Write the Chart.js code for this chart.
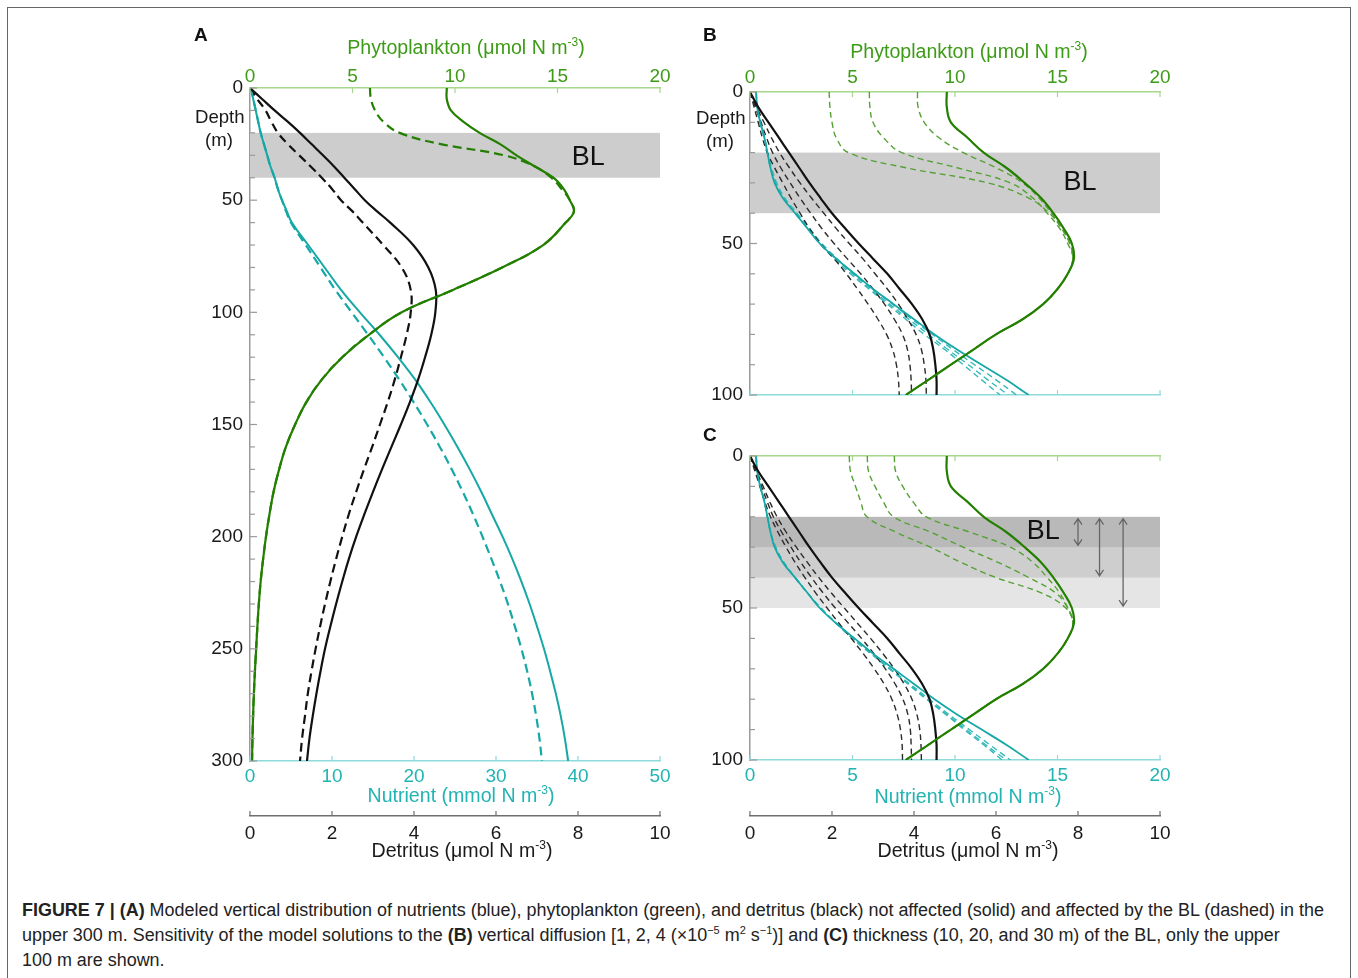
<!DOCTYPE html>
<html>
<head>
<meta charset="utf-8">
<script src="https://cdn.jsdelivr.net/npm/chart.js@4.4.0/dist/chart.umd.min.js"></script>
<style>
  body { margin: 0; background: #fff; font-family: "Liberation Sans", Arial, sans-serif; }
  #page { position: relative; width: 1358px; height: 978px; overflow: hidden; background: #fff; }
  .frame { position: absolute; left: 7px; top: 7px; width: 1342px; height: 990px; border: 1px solid #666; }
  canvas { position: absolute; }
  .t { position: absolute; white-space: nowrap; font-size: 19.6px; line-height: 22px; transform: translateX(-50%); }
  .l { position: absolute; white-space: nowrap; font-size: 18.6px; line-height: 22px; color: #1a1a1a; }
  .p { position: absolute; font-size: 19px; font-weight: bold; line-height: 20px; color: #111; }
  sup { font-size: 12px; line-height: 0; vertical-align: 8px; }
  .cap { position: absolute; left: 22px; top: 898px; font-size: 17.95px; line-height: 25px; color: #222; white-space: nowrap; }
  .cap sup { font-size: 11px; vertical-align: 7px; }
</style>
</head>
<body>
<div id="page">
  <div class="frame"></div>

  <canvas id="cA" width="540" height="850" style="left:150px;top:20px"></canvas>
  <canvas id="cB" width="540" height="400" style="left:650px;top:20px"></canvas>
  <canvas id="cC" width="540" height="450" style="left:650px;top:420px"></canvas>

  <div class="p" style="left:194px;top:25px">A</div>
  <div class="p" style="left:703px;top:25px">B</div>
  <div class="p" style="left:703px;top:425px">C</div>

  <div class="t" style="left:466px;top:36px;color:#3d9b16">Phytoplankton (μmol N m<sup>-3</sup>)</div>
  <div class="t" style="left:969px;top:40px;color:#3d9b16">Phytoplankton (μmol N m<sup>-3</sup>)</div>
  <div class="t" style="left:461px;top:784px;color:#22b3b3">Nutrient (mmol N m<sup>-3</sup>)</div>
  <div class="t" style="left:968px;top:785px;color:#22b3b3">Nutrient (mmol N m<sup>-3</sup>)</div>
  <div class="t" style="left:462px;top:839px;color:#1a1a1a">Detritus (μmol N m<sup>-3</sup>)</div>
  <div class="t" style="left:968px;top:839px;color:#1a1a1a">Detritus (μmol N m<sup>-3</sup>)</div>

  <div class="l" style="left:195px;top:106px">Depth</div>
  <div class="l" style="left:205px;top:129px">(m)</div>
  <div class="l" style="left:696px;top:107px">Depth</div>
  <div class="l" style="left:706px;top:130px">(m)</div>

  <div class="cap"><b>FIGURE 7 | (A)</b> Modeled vertical distribution of nutrients (blue), phytoplankton (green), and detritus (black) not affected (solid) and affected by the BL (dashed) in the<br>upper 300 m. Sensitivity of the model solutions to the <b>(B)</b> vertical diffusion [1, 2, 4 (×10<sup>−5</sup> m<sup>2</sup> s<sup>−1</sup>)] and <b>(C)</b> thickness (10, 20, and 30 m) of the BL, only the upper<br>100 m are shown.</div>
</div>

<script>
// ---- panel A: upper 300 m ----
const depthA = [0, 5, 10, 15, 20, 25, 30, 35, 40, 45, 50, 55, 60, 70, 80, 90, 100, 110, 120, 130, 140, 150, 160, 170, 180, 190, 200, 210, 220, 230, 240, 250, 260, 270, 280, 290, 300];
const phytoA = [9.6, 9.6, 9.8, 10.4, 11.2, 12.2, 13.0, 13.9, 14.8, 15.3, 15.6, 15.8, 15.4, 14.3, 12.3, 9.9, 7.4, 5.8, 4.5, 3.5, 2.75, 2.2, 1.75, 1.42, 1.15, 0.95, 0.78, 0.64, 0.52, 0.43, 0.36, 0.3, 0.24, 0.19, 0.15, 0.12, 0.1];
const phytoA_bl = [5.85, 5.9, 6.1, 6.5, 7.3, 9.3, 12.4, 13.9, 14.7, 15.2, 15.6, 15.8, 15.4, 14.3, 12.3, 9.9, 7.4, 5.8, 4.5, 3.5, 2.75, 2.2, 1.75, 1.42, 1.15, 0.95, 0.78, 0.64, 0.52, 0.43, 0.36, 0.3, 0.24, 0.19, 0.15, 0.12, 0.1];
const detrA = [0, 0.3, 0.6, 0.92, 1.22, 1.5, 1.78, 2.05, 2.3, 2.55, 2.8, 3.1, 3.42, 3.98, 4.35, 4.53, 4.52, 4.42, 4.27, 4.1, 3.9, 3.68, 3.45, 3.22, 3.0, 2.79, 2.59, 2.41, 2.25, 2.1, 1.96, 1.83, 1.72, 1.62, 1.53, 1.45, 1.39];
const detrA_bl = [0, 0.18, 0.38, 0.52, 0.68, 0.92, 1.2, 1.48, 1.75, 2.0, 2.22, 2.5, 2.75, 3.25, 3.7, 3.92, 3.92, 3.82, 3.68, 3.53, 3.36, 3.17, 2.98, 2.78, 2.59, 2.41, 2.25, 2.1, 1.96, 1.83, 1.71, 1.6, 1.5, 1.41, 1.34, 1.27, 1.22];
const nutA = [0.1, 0.4, 0.7, 1.0, 1.3, 1.7, 2.1, 2.5, 3.0, 3.4, 3.9, 4.5, 5.1, 7.1, 9.1, 11.1, 13.4, 15.8, 18.05, 20.15, 22.0, 23.7, 25.3, 26.8, 28.2, 29.5, 30.8, 32.0, 33.1, 34.1, 35.0, 35.85, 36.6, 37.3, 37.9, 38.4, 38.8];
const nutA_bl = [0.1, 0.4, 0.7, 1.0, 1.3, 1.7, 2.1, 2.5, 3.0, 3.4, 3.9, 4.4, 5.0, 6.8, 8.6, 10.4, 12.4, 14.4, 16.35, 18.2, 19.95, 21.6, 23.15, 24.6, 25.95, 27.2, 28.35, 29.45, 30.5, 31.45, 32.3, 33.1, 33.8, 34.4, 34.9, 35.3, 35.6];
const blA = [20, 40];

// ---- panels B and C: upper 100 m ----
const depthBC = [0, 5, 10, 15, 20, 25, 30, 35, 40, 45, 50, 55, 60, 65, 70, 75, 80, 85, 90, 95, 100];
const phytoRef = [9.6, 9.6, 9.8, 10.6, 11.4, 12.5, 13.4, 14.2, 14.8, 15.3, 15.7, 15.8, 15.5, 15.0, 14.3, 13.3, 12.0, 10.9, 9.8, 8.7, 7.6];
const detrRef = [0, 0.2, 0.45, 0.7, 0.95, 1.2, 1.45, 1.72, 2.0, 2.32, 2.65, 3.0, 3.35, 3.65, 3.95, 4.2, 4.38, 4.47, 4.52, 4.55, 4.55];
const nutRef = [0.3, 0.35, 0.5, 0.7, 0.85, 1.0, 1.2, 1.6, 2.2, 2.8, 3.4, 4.2, 5.1, 6.0, 7.0, 8.0, 9.0, 10.1, 11.3, 12.5, 13.6];

// B: vertical diffusion 1, 2, 4 (x1e-5 m2 s-1)
const phytoB1 = [3.86, 3.9, 4.0, 4.2, 4.8, 7.6, 11.6, 13.6, 14.6, 15.2, 15.6, 15.75, 15.5, 15.0, 14.3, 13.3, 12.0, 10.9, 9.8, 8.7, 7.6];
const phytoB2 = [5.82, 5.85, 6.0, 6.5, 7.4, 10.1, 12.7, 13.8, 14.5, 15.1, 15.5, 15.75, 15.5, 15.0, 14.3, 13.3, 12.0, 10.9, 9.8, 8.7, 7.6];
const phytoB3 = [8.17, 8.2, 8.5, 9.2, 10.4, 12.0, 13.3, 14.1, 14.7, 15.2, 15.6, 15.75, 15.5, 15.0, 14.3, 13.3, 12.0, 10.9, 9.8, 8.7, 7.6];
const detrB1 = [0, 0.1, 0.2, 0.3, 0.42, 0.6, 0.8, 1.0, 1.22, 1.45, 1.72, 2.05, 2.35, 2.62, 2.88, 3.12, 3.33, 3.48, 3.57, 3.62, 3.64];
const detrB2 = [0, 0.13, 0.27, 0.4, 0.55, 0.75, 0.98, 1.22, 1.48, 1.75, 2.05, 2.37, 2.7, 3.0, 3.28, 3.52, 3.72, 3.84, 3.9, 3.93, 3.94];
const detrB3 = [0, 0.16, 0.34, 0.52, 0.72, 0.96, 1.22, 1.5, 1.8, 2.1, 2.42, 2.75, 3.05, 3.35, 3.62, 3.85, 4.05, 4.18, 4.25, 4.29, 4.3];
const nutB1 = [0.3, 0.35, 0.5, 0.7, 0.85, 1.0, 1.25, 1.65, 2.2, 2.8, 3.4, 4.1, 4.9, 5.8, 6.7, 7.6, 8.5, 9.5, 10.4, 11.3, 12.2];
const nutB2 = [0.3, 0.35, 0.5, 0.7, 0.85, 1.0, 1.25, 1.65, 2.25, 2.85, 3.45, 4.2, 5.0, 5.9, 6.8, 7.75, 8.7, 9.65, 10.65, 11.6, 12.6];
const nutB3 = [0.3, 0.35, 0.5, 0.7, 0.85, 1.05, 1.3, 1.7, 2.3, 2.9, 3.5, 4.25, 5.05, 6.0, 6.95, 7.9, 8.9, 9.9, 10.95, 12.0, 13.0];
const blB = [20, 40];

// C: BL thickness 10, 20, 30 m
const phytoC1 = [7.04, 7.1, 7.45, 7.95, 8.6, 10.7, 12.7, 13.8, 14.5, 15.1, 15.5, 15.75, 15.5, 15.0, 14.3, 13.3, 12.0, 10.9, 9.8, 8.7, 7.6];
const phytoC2 = [5.72, 5.78, 6.1, 6.5, 7.0, 8.8, 10.4, 12.1, 13.6, 14.9, 15.5, 15.75, 15.5, 15.0, 14.3, 13.3, 12.0, 10.9, 9.8, 8.7, 7.6];
const phytoC3 = [4.84, 4.9, 5.15, 5.4, 5.7, 7.1, 8.8, 10.3, 12.0, 14.2, 15.4, 15.75, 15.5, 15.0, 14.3, 13.3, 12.0, 10.9, 9.8, 8.7, 7.6];
const detrC1 = [0, 0.12, 0.24, 0.36, 0.5, 0.68, 0.88, 1.1, 1.34, 1.6, 1.88, 2.17, 2.47, 2.76, 3.03, 3.27, 3.46, 3.59, 3.67, 3.71, 3.72];
const detrC2 = [0, 0.14, 0.28, 0.42, 0.57, 0.77, 1.0, 1.24, 1.5, 1.78, 2.08, 2.4, 2.72, 3.02, 3.3, 3.54, 3.73, 3.85, 3.91, 3.93, 3.94];
const detrC3 = [0, 0.16, 0.32, 0.48, 0.66, 0.88, 1.13, 1.4, 1.68, 1.98, 2.3, 2.62, 2.94, 3.24, 3.52, 3.76, 3.95, 4.07, 4.14, 4.17, 4.18];
const nutC1 = [0.3, 0.35, 0.5, 0.7, 0.85, 1.0, 1.25, 1.65, 2.2, 2.8, 3.45, 4.2, 5.0, 5.9, 6.8, 7.7, 8.6, 9.55, 10.45, 11.4, 12.3];
const nutC2 = [0.3, 0.35, 0.5, 0.7, 0.85, 1.0, 1.25, 1.65, 2.2, 2.8, 3.45, 4.2, 5.0, 5.9, 6.8, 7.75, 8.65, 9.6, 10.55, 11.5, 12.5];
const nutC3 = [0.3, 0.35, 0.5, 0.7, 0.85, 1.0, 1.25, 1.65, 2.2, 2.8, 3.45, 4.2, 5.0, 5.9, 6.85, 7.8, 8.75, 9.7, 10.7, 11.7, 12.7];
const blC = [[20, 30], [20, 40], [20, 50]];
const arrowX = [16.0, 17.05, 18.2];   // phytoplankton units, just right of "BL"

Chart.defaults.font.family = '"Liberation Sans", Arial, sans-serif';
Chart.defaults.font.size = 19;
Chart.defaults.color = '#1a1a1a';

const GREEN = '#237f00', GREEN_L = '#55a135';
const TEAL = '#16a7a7', TEAL_L = '#35b8b8';
const BLACK = '#111111', BLACK_L = '#2b2b2b';

function prof(depths, vals, axis, color, width, dash) {
  return {
    data: vals.map((v, i) => ({ x: v, y: depths[i] })),
    xAxisID: axis, yAxisID: 'y',
    showLine: true, borderColor: color, borderWidth: width, borderDash: dash || [],
    pointRadius: 0, pointHoverRadius: 0, tension: 0.4, fill: false
  };
}

const noGrid = () => ({ display: false, drawTicks: false });

function yAxis(max) {
  return {
    type: 'linear', position: 'left', reverse: true, min: 0, max: max,
    afterFit: s => { s.width = 100; },
    ticks: { stepSize: 10, autoSkip: false, padding: 7, color: '#1a1a1a',
             callback: v => (v % 50 === 0 ? v : '') },
    grid: noGrid(), border: { color: '#9a9a9a', width: 1.5 }
  };
}
function phytoAxis(h, labels, pad) {
  return {
    type: 'linear', position: 'top', min: 0, max: 20,
    afterFit: s => { s.height = h; },
    ticks: { stepSize: 5, display: labels, padding: pad, color: '#3d9b16' },
    grid: noGrid(), border: { color: '#a5d88a', width: 1.5 }
  };
}
function nutAxis(max, h, labels) {
  return {
    type: 'linear', position: 'bottom', min: 0, max: max, weight: 0,
    afterFit: s => { s.height = h; },
    ticks: { stepSize: max / 5 >= 10 ? 10 : 5, display: labels, padding: 4, color: '#22b3b3' },
    grid: noGrid(), border: { color: '#8edbdb', width: 1.5 }
  };
}
function detrAxis(show) {
  return {
    type: 'linear', position: 'bottom', min: 0, max: 10, weight: 1, display: show,
    afterFit: s => { s.height = show ? 54 : 0; },
    ticks: { stepSize: 2, padding: 6, color: '#1a1a1a' },
    grid: noGrid(), border: { color: '#6f6f6f', width: 1.5 }
  };
}

// inward tick marks on every visible axis
const inTicks = {
  id: 'inTicks',
  afterDraw(chart) {
    const ctx = chart.ctx;
    ctx.save();
    Object.values(chart.scales).forEach(s => {
      if (!s.options.display) return;
      ctx.strokeStyle = s.options.border.color;
      ctx.lineWidth = 1.2;
      s.ticks.forEach(t => {
        const p = s.getPixelForValue(t.value);
        ctx.beginPath();
        if (s.position === 'left') {
          const L = t.value % 50 === 0 ? 7 : 5;
          ctx.moveTo(s.right, p); ctx.lineTo(s.right + L, p);
        } else if (s.position === 'top') {
          ctx.moveTo(p, s.bottom); ctx.lineTo(p, s.bottom + 5);
        } else {
          ctx.moveTo(p, s.top); ctx.lineTo(p, s.top - 5);
        }
        ctx.stroke();
      });
    });
    ctx.restore();
  }
};

// boundary-layer shading, "BL" label and thickness arrows
function blLayer(bands, labelAt, arrows) {
  return {
    id: 'blLayer',
    beforeDatasetsDraw(chart) {
      const { ctx, chartArea: a, scales } = chart;
      const y = scales.y, x = scales.xP;
      ctx.save();
      bands.forEach(b => {
        const y1 = y.getPixelForValue(b[0]), y2 = y.getPixelForValue(b[1]);
        ctx.fillStyle = bands.length > 1 ? 'rgba(0,0,0,0.1)' : '#cdcdcd';
        ctx.fillRect(a.left, y1, a.right - a.left, y2 - y1);
      });
      ctx.fillStyle = '#111';
      ctx.font = '27px "Liberation Sans", Arial, sans-serif';
      ctx.textAlign = 'center';
      ctx.textBaseline = 'middle';
      ctx.fillText('BL', x.getPixelForValue(labelAt[0]), y.getPixelForValue(labelAt[1]));
      if (arrows) {
        ctx.strokeStyle = '#666';
        ctx.lineWidth = 1.3;
        arrows.forEach((ax, i) => {
          const px = x.getPixelForValue(ax);
          const t = y.getPixelForValue(bands[i][0] + 0.6), b = y.getPixelForValue(bands[i][1] - 0.6);
          ctx.beginPath();
          ctx.moveTo(px, t); ctx.lineTo(px, b);
          ctx.moveTo(px - 4, t + 6); ctx.lineTo(px, t); ctx.lineTo(px + 4, t + 6);
          ctx.moveTo(px - 4, b - 6); ctx.lineTo(px, b); ctx.lineTo(px + 4, b - 6);
          ctx.stroke();
        });
      }
      ctx.restore();
    }
  };
}

const base = {
  responsive: false, animation: false, events: [],
  layout: { padding: { left: 0, right: 30, top: 0, bottom: 0 } },
  plugins: { legend: { display: false }, tooltip: { enabled: false } }
};

// Panel A
new Chart(document.getElementById('cA'), {
  type: 'scatter',
  data: { datasets: [
    prof(depthA, phytoA, 'xP', GREEN, 2.2),
    prof(depthA, detrA, 'xD', BLACK, 2.2),
    prof(depthA, nutA, 'xN', TEAL, 2),
    prof(depthA, phytoA_bl, 'xP', GREEN, 2.2, [9, 5]),
    prof(depthA, detrA_bl, 'xD', BLACK, 2.2, [9, 5]),
    prof(depthA, nutA_bl, 'xN', TEAL, 2.2, [9, 5])
  ] },
  options: Object.assign({}, base, {
    scales: { y: yAxis(300), xP: phytoAxis(68, true, 0), xN: nutAxis(50, 55, true), xD: detrAxis(true) }
  }),
  plugins: [blLayer([blA], [16.5, 31]), inTicks]
});

// Panel B
new Chart(document.getElementById('cB'), {
  type: 'scatter',
  data: { datasets: [
    prof(depthBC, phytoRef, 'xP', GREEN, 2.2),
    prof(depthBC, detrRef, 'xD', BLACK, 2.2),
    prof(depthBC, nutRef, 'xN', TEAL, 1.8),
    prof(depthBC, phytoB1, 'xP', GREEN_L, 1.4, [6, 4]),
    prof(depthBC, phytoB2, 'xP', GREEN_L, 1.4, [6, 4]),
    prof(depthBC, phytoB3, 'xP', GREEN_L, 1.4, [6, 4]),
    prof(depthBC, detrB1, 'xD', BLACK_L, 1.4, [6, 4]),
    prof(depthBC, detrB2, 'xD', BLACK_L, 1.4, [6, 4]),
    prof(depthBC, detrB3, 'xD', BLACK_L, 1.4, [6, 4]),
    prof(depthBC, nutB1, 'xN', TEAL_L, 1.4, [6, 4]),
    prof(depthBC, nutB2, 'xN', TEAL_L, 1.4, [6, 4]),
    prof(depthBC, nutB3, 'xN', TEAL_L, 1.4, [6, 4])
  ] },
  options: Object.assign({}, base, {
    scales: { y: yAxis(100), xP: phytoAxis(72, true, 3), xN: nutAxis(20, 25, false), xD: detrAxis(false) }
  }),
  plugins: [blLayer([blB], [16.1, 30]), inTicks]
});

// Panel C
new Chart(document.getElementById('cC'), {
  type: 'scatter',
  data: { datasets: [
    prof(depthBC, phytoRef, 'xP', GREEN, 2.2),
    prof(depthBC, detrRef, 'xD', BLACK, 2.2),
    prof(depthBC, nutRef, 'xN', TEAL, 1.8),
    prof(depthBC, phytoC1, 'xP', GREEN_L, 1.4, [6, 4]),
    prof(depthBC, phytoC2, 'xP', GREEN_L, 1.4, [6, 4]),
    prof(depthBC, phytoC3, 'xP', GREEN_L, 1.4, [6, 4]),
    prof(depthBC, detrC1, 'xD', BLACK_L, 1.4, [6, 4]),
    prof(depthBC, detrC2, 'xD', BLACK_L, 1.4, [6, 4]),
    prof(depthBC, detrC3, 'xD', BLACK_L, 1.4, [6, 4]),
    prof(depthBC, nutC1, 'xN', TEAL_L, 1.4, [6, 4]),
    prof(depthBC, nutC2, 'xN', TEAL_L, 1.4, [6, 4]),
    prof(depthBC, nutC3, 'xN', TEAL_L, 1.4, [6, 4])
  ] },
  options: Object.assign({}, base, {
    scales: { y: yAxis(100), xP: phytoAxis(36, false, 3), xN: nutAxis(20, 56, true), xD: detrAxis(true) }
  }),
  plugins: [blLayer(blC, [14.3, 24.7], arrowX), inTicks]
});
</script>
</body>
</html>
